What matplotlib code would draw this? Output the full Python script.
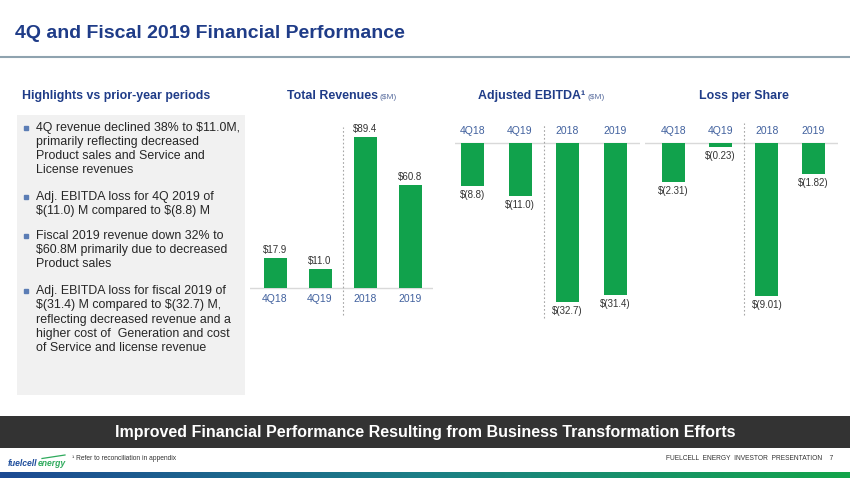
import matplotlib
matplotlib.use("Agg")
import matplotlib.pyplot as plt
import numpy as np
from matplotlib.colors import LinearSegmentedColormap
from matplotlib.patches import Rectangle

# ---------------- data ----------------
periods = ["4Q18", "4Q19", "2018", "2019"]
revenues = [17.9, 11.0, 89.4, 60.8]
ebitda = [-8.8, -11.0, -32.7, -31.4]
loss_per_share = [-2.31, -0.23, -9.01, -1.82]

title = "4Q and Fiscal 2019 Financial Performance"
banner = "Improved Financial Performance Resulting from Business Transformation Efforts"
bullets = [
    ["4Q revenue declined 38% to $11.0M,", "primarily reflecting decreased",
     "Product sales and Service and", "License revenues"],
    ["Adj. EBITDA loss for 4Q 2019 of", "$(11.0) M compared to $(8.8) M"],
    ["Fiscal 2019 revenue down 32% to", "$60.8M primarily due to decreased",
     "Product sales"],
    ["Adj. EBITDA loss for fiscal 2019 of", "$(31.4) M compared to $(32.7) M,",
     "reflecting decreased revenue and a", "higher cost of  Generation and cost",
     "of Service and license revenue"],
]

# ---------------- style ----------------
W, H = 850, 478
FONT = ["Liberation Sans", "DejaVu Sans"]
NARROW = ["Liberation Sans Narrow", "Liberation Sans", "DejaVu Sans"]
plt.rcParams["font.family"] = FONT
NAVY = "#1F3C88"
GREEN = "#11A24C"
CAT = "#41619E"
VAL = "#333333"
BASE = "#D9D9D9"
SEP = "#A6A6A6"

fig = plt.figure(figsize=(W / 100, H / 100), dpi=100)
bg = fig.add_axes([0, 0, 1, 1])
bg.set_xlim(0, W)
bg.set_ylim(H, 0)
bg.axis("off")
renderer = fig.canvas.get_renderer()

# title and rule
bg.text(15, 33, title, fontsize=14, fontweight="bold", color=NAVY, va="center", ha="left")
bg.plot([0, W], [57, 57], color="#8FA3AF", lw=1.5)

# highlights box
bg.add_patch(Rectangle((17, 115), 228, 280, facecolor="#F1F1F1", edgecolor="none"))
bg.text(22, 96, "Highlights vs prior-year periods", fontsize=8.9, fontweight="bold",
        color=NAVY, va="center", ha="left")
line_y = [[128, 142, 156, 170], [197, 211], [236, 250, 264], [291, 305, 320, 334, 348]]
for lines, ys in zip(bullets, line_y):
    bg.plot(26, ys[0], marker="s", markersize=3, color="#5B7DB5", lw=0)
    for t, y in zip(lines, ys):
        bg.text(36, y, t, fontsize=8.9, color="#262626", va="center", ha="left",
                parse_math=False)


# section headers
def header(x, main, sub=None):
    t = bg.text(x, 96, main, fontsize=8.9, fontweight="bold", color=NAVY, va="center", ha="left")
    if sub:
        bb = t.get_window_extent(renderer)
        bg.text(bb.x1 + 2, 97, sub, fontsize=6, color="#5B6FA0", va="center", ha="left",
                parse_math=False)


header(287, "Total Revenues", "($M)")
header(478, "Adjusted EBITDA\u00b9", "($M)")
header(699, "Loss per Share")

# banner
bg.add_patch(Rectangle((0, 416), W, 32, facecolor="#333333", edgecolor="none"))
bg.text(425, 432, banner, fontsize=11.5, fontweight="bold", color="white",
        va="center", ha="center", family=NARROW)

# footer logo
t1 = bg.text(8, 464, "fuelcell", fontsize=6.2, fontweight="bold", style="italic",
             color="#1F4E9C", va="center", ha="left")
bb = t1.get_window_extent(renderer)
bg.text(bb.x1 + 0.5, 464, "energy", fontsize=6.2, fontweight="bold", style="italic",
        color="#2EAA5C", va="center", ha="left")
bg.plot([42, 65], [458.5, 455], color="#2EAA5C", lw=0.9)
bg.text(72, 459, "\u00b9 Refer to reconciliation in appendix", fontsize=4.8, color="#333333",
        va="center", ha="left", family=NARROW)
bg.text(833, 459, "FUELCELL  ENERGY  INVESTOR  PRESENTATION    7", fontsize=4.8,
        color="#333333", va="center", ha="right", family=NARROW)

# gradient strip
cmap = LinearSegmentedColormap.from_list("fc", ["#1C4A93", "#1B7F86", "#13A44A"])
bg.imshow(np.linspace(0, 1, 256)[None, :], cmap=cmap, aspect="auto",
          extent=(0, W, 478, 472), zorder=1)
bg.set_xlim(0, W)
bg.set_ylim(H, 0)


# ---------------- charts ----------------
def chart(px0, px1, py0, py1, c0, step, base_y, scale, values, fmt, cats_above):
    ax = fig.add_axes([px0 / W, 1 - py1 / H, (px1 - px0) / W, (py1 - py0) / H])
    ax.set_xlim((px0 - c0) / step, (px1 - c0) / step)
    ax.set_ylim(-(py1 - base_y) / scale, (base_y - py0) / scale)
    ax.axis("off")
    x = np.arange(len(values))
    ax.bar(x, values, width=23 / step, color=GREEN, zorder=2)
    ax.axhline(0, color=BASE, lw=1, zorder=1)
    for i, v in enumerate(values):
        if v >= 0:
            ax.annotate(fmt(v), (i, v), xytext=(0, 3), textcoords="offset pixels",
                        ha="center", va="bottom", fontsize=7, color=VAL)
        else:
            ax.annotate(fmt(v), (i, v), xytext=(0, -4), textcoords="offset pixels",
                        ha="center", va="top", fontsize=7, color=VAL)
        dy = 12 if cats_above else -11
        ax.annotate(periods[i], (i, 0), xytext=(0, dy), textcoords="offset pixels",
                    ha="center", va="center", fontsize=7.5, color=CAT)
    return ax


ax1 = chart(250, 433, 120, 320, 275, 45, 288, 1.69, revenues,
            lambda v: f"${v:.1f}", False)
ax1.axvline(1.5, ymin=(320 - 315) / 200, ymax=(320 - 127) / 200, color=SEP, lw=0.8,
            ls=(0, (1.5, 2)))

ax2 = chart(455, 640, 120, 320, 472.5, 47.5, 143, 4.85, ebitda,
            lambda v: f"$({abs(v):.1f})", True)
ax2.axvline(1.5, ymin=(320 - 318) / 200, ymax=(320 - 125) / 200, color=SEP, lw=0.8,
            ls=(0, (1.5, 2)))

ax3 = chart(645, 838, 120, 320, 673.5, 46.7, 142.7, 17.0, loss_per_share,
            lambda v: f"$({abs(v):.2f})", True)
ax3.axvline(1.5, ymin=(320 - 315) / 200, ymax=(320 - 123) / 200, color=SEP, lw=0.8,
            ls=(0, (1.5, 2)))

fig.savefig("out.png", dpi=100)
